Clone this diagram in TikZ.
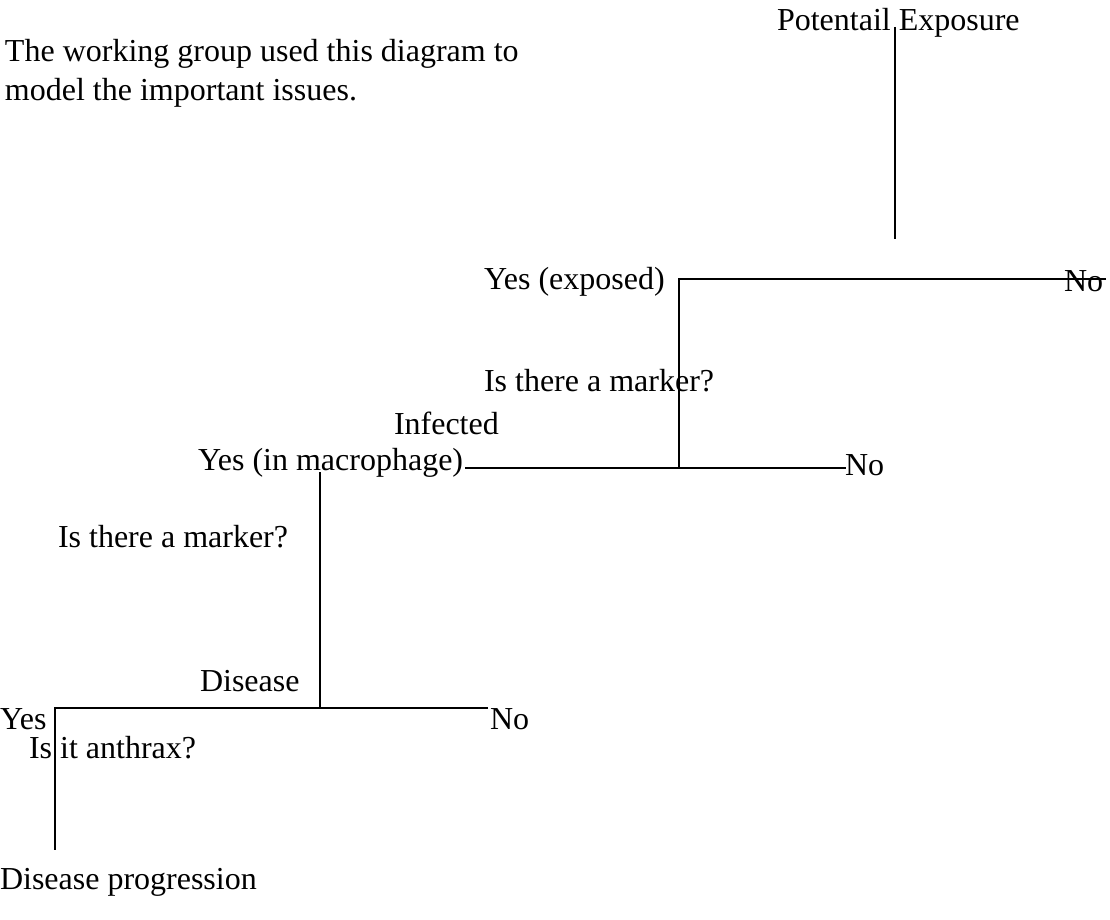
\documentclass[tikz,border=0pt]{standalone}
\usepackage{fontspec}
\setmainfont{Liberation Serif}
\begin{document}
\begin{tikzpicture}[x=1pt,y=-1pt,
  lbl/.style={anchor=base west,inner sep=0pt,outer sep=0pt,font=\fontsize{32}{36}\selectfont},
  ln/.style={line width=2pt,black}]
\useasboundingbox (0,0) rectangle (1110,920);
\fill[white] (0,0) rectangle (1110,920);
% texts
\node[lbl] (pot) at (777,31) {Potentail Exposure};
\node[lbl] (intro1) at (5,62) {The working group used this diagram to};
\node[lbl] (intro2) at (5,101) {model the important issues.};
\node[lbl] (yesexp) at (484,289) {Yes (exposed)};
\node[lbl] (no1) at (1064,291) {No};
\node[lbl] (q1) at (484,391) {Is there a marker?};
\node[lbl] (inf) at (394,434) {Infected};
\node[lbl] (yesmac) at (198,470) {Yes (in macrophage)};
\node[lbl] (no2) at (845,475) {No};
\node[lbl] (q2) at (58,547) {Is there a marker?};
\node[lbl] (dis) at (200,691) {Disease};
\node[lbl] (yes3) at (0,729) {Yes};
\node[lbl] (no3) at (490,729) {No};
\node[lbl] (q3) at (29,758) {Is it anthrax?};
\node[lbl] (prog) at (0,889) {Disease progression};
% connector points
\coordinate (v1t) at (895,27);
\coordinate (v1b) at (895,239);
\coordinate (h1l) at (679,279);
\coordinate (h1r) at (1106,279);
\coordinate (v2b) at (679,468);
\coordinate (h2l) at (465,468);
\coordinate (h2r) at (846,468);
\coordinate (v3t) at (320,472);
\coordinate (v3b) at (320,708);
\coordinate (h3l) at (55,708);
\coordinate (h3r) at (488,708);
\coordinate (v4b) at (55,850);
% lines
\draw[ln] (v1t) -- (v1b);
\draw[ln] (h1r) -- (h1l) -- (v2b);
\draw[ln] (h2l) -- (h2r);
\draw[ln] (v3t) -- (v3b);
\draw[ln] (h3r) -- (h3l) -- (v4b);
\end{tikzpicture}
\end{document}
